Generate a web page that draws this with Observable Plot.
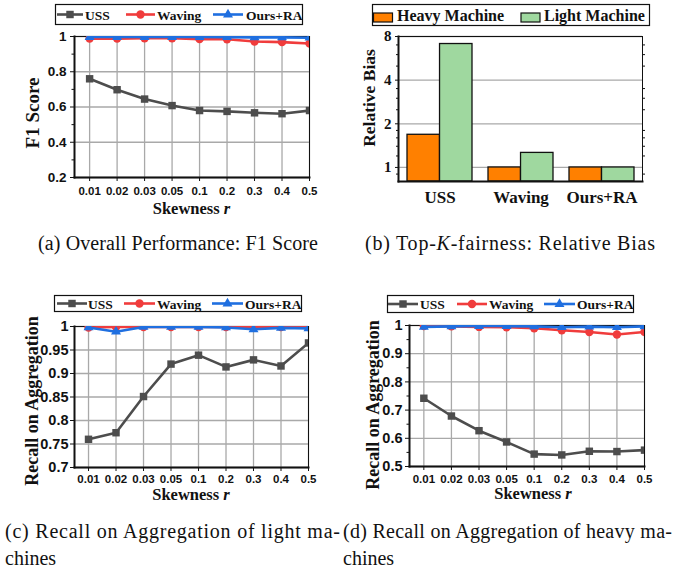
<!DOCTYPE html>
<html><head><meta charset="utf-8">
<script src="https://cdn.jsdelivr.net/npm/d3@7"></script>
<script src="https://cdn.jsdelivr.net/npm/@observablehq/plot@0.6"></script>
<style>
body{margin:0;background:#fff}
#root{position:relative;width:676px;height:572px;overflow:hidden;background:#fff}
#root > svg{position:absolute}
</style></head><body><div id="root"></div>
<script>
// ---------- data ----------
const skewLabels = ["0.01","0.02","0.03","0.05","0.1","0.2","0.3","0.4","0.5"];
const seriesNames = ["USS","Waving","Ours+RA"];

const f1USS    = [0.760, 0.698, 0.645, 0.608, 0.580, 0.575, 0.567, 0.562, 0.580];
const f1Waving = [0.988, 0.988, 0.990, 0.990, 0.985, 0.984, 0.972, 0.968, 0.960];
const f1Ours   = [0.997, 0.997, 0.997, 0.997, 0.997, 0.996, 0.995, 0.995, 0.993];

const lightUSS    = [0.760, 0.774, 0.851, 0.920, 0.939, 0.914, 0.929, 0.916, 0.965];
const lightWaving = [0.998, 0.999, 0.999, 0.999, 0.999, 0.999, 0.999, 0.999, 0.999];
const lightOurs   = [0.998, 0.989, 0.999, 0.999, 0.999, 0.998, 0.994, 0.997, 0.996];

const heavyUSS    = [0.742, 0.679, 0.627, 0.587, 0.544, 0.541, 0.554, 0.553, 0.558];
const heavyWaving = [0.998, 0.997, 0.995, 0.994, 0.990, 0.983, 0.977, 0.968, 0.977];
const heavyOurs   = [0.995, 0.997, 0.998, 0.998, 0.997, 0.994, 0.996, 0.994, 0.997];

const methods     = ["USS","Waving","Ours+RA"];
const machineKeys = ["Heavy Machine","Light Machine"];
const heavyBias   = [1.68, 1.00, 1.00];
const lightBias   = [7.10, 1.26, 1.00];

const f1Ticks    = [0.2, 0.4, 0.6, 0.8, 1];
const f1Minor    = [0.3, 0.5, 0.7, 0.9];
const lightTicks = [0.7, 0.75, 0.8, 0.85, 0.9, 0.95, 1];
const heavyTicks = [0.5, 0.6, 0.7, 0.8, 0.9, 1];
const heavyMinor = [0.55, 0.65, 0.75, 0.85, 0.95];
const biasTicks  = [1, 2, 4, 8];
const biasMinor  = [0.9, 1.2, 1.4, 1.6, 1.8, 2.5, 3, 3.5, 5, 6, 7];

// ---------- style ----------
const SANS = "'Liberation Sans', Arial, sans-serif";
const SERIF = "'Liberation Serif', 'Times New Roman', serif";
const COLORS = {"USS":"#4d4d4d","Waving":"#f03c3c","Ours+RA":"#1f6fe0"};
const SYMBOLS = {"USS":"square","Waving":"circle","Ours+RA":"triangle"};
const RADII = {"USS":4.2,"Waving":4.2,"Ours+RA":3.7};
const BARCOL = {"Heavy Machine":"#ff8000","Light Machine":"#9fd89f"};
const GRID = "#a9a9a9";

const root = document.getElementById("root");

function lineChart(cfg) {
  const idx = skewLabels.map((_, i) => i);
  const vals = [cfg.uss, cfg.waving, cfg.ours];
  const rows = seriesNames.flatMap((k, s) => vals[s].map((v, i) => ({i, v, k})));
  const marks = [
    Plot.gridX(idx, {stroke: GRID, strokeOpacity: 1, strokeWidth: 1.3}),
    Plot.gridY(cfg.yTicks, {stroke: GRID, strokeOpacity: 1, strokeWidth: 1.3}),
    Plot.frame({stroke: "#111", strokeWidth: 1}),
    Plot.frame({anchor: "left", stroke: "#111", strokeWidth: 2}),
    Plot.frame({anchor: "bottom", stroke: "#111", strokeWidth: 2}),
    Plot.axisX(idx, {tickFormat: i => skewLabels[i], tickSize: 4, tickPadding: cfg.xPad, label: null,
      fontSize: 11.5, fontWeight: "bold", fontFamily: SANS}),
    Plot.axisY(cfg.yTicks, {tickFormat: d => String(d), tickSize: 4, tickPadding: cfg.yPad, label: null,
      fontSize: cfg.yFont, fontWeight: "bold", fontFamily: SANS}),
  ];
  if (cfg.yMinor) marks.push(Plot.axisY(cfg.yMinor, {tickSize: 2.5, tickFormat: () => "", label: null}));
  for (const k of seriesNames) {
    marks.push(Plot.line(rows, {filter: d => d.k === k, x: "i", y: "v", stroke: COLORS[k], strokeWidth: 2.6, clip: true}));
    marks.push(Plot.dot(rows, {filter: d => d.k === k, x: "i", y: "v", symbol: SYMBOLS[k], r: RADII[k], fill: COLORS[k], stroke: "none", clip: true}));
  }
  const svg = Plot.plot({
    width: cfg.w, height: cfg.h,
    marginLeft: cfg.mL, marginRight: cfg.mR, marginTop: cfg.mT, marginBottom: cfg.mB,
    style: {background: "transparent", color: "#111", overflow: "visible"},
    x: {type: "linear", domain: [-cfg.pad, skewLabels.length - 1], axis: null, label: null},
    y: {type: "linear", domain: cfg.yDom, axis: null, label: null},
    symbol: {type: "identity"},
    marks
  });
  svg.style.left = cfg.left + "px";
  svg.style.top = cfg.top + "px";
  root.appendChild(svg);
}

lineChart({left: 0, top: 0, w: 338, h: 225, mL: 74, mR: 29, mT: 36, mB: 48, pad: 0.55,
  yDom: [0.2, 1], yTicks: f1Ticks, yMinor: f1Minor, xPad: 5, yPad: 4, yFont: 13.5,
  uss: f1USS, waving: f1Waving, ours: f1Ours});
lineChart({left: 0, top: 285, w: 338, h: 220, mL: 74, mR: 30, mT: 41, mB: 38, pad: 0.51,
  yDom: [0.7, 1], yTicks: lightTicks, yMinor: null, xPad: 3, yPad: 2, yFont: 14.5,
  uss: lightUSS, waving: lightWaving, ours: lightOurs});
lineChart({left: 340, top: 285, w: 336, h: 220, mL: 69, mR: 32, mT: 40, mB: 39, pad: 0.52,
  yDom: [0.5, 1], yTicks: heavyTicks, yMinor: heavyMinor, xPad: 4, yPad: 3, yFont: 14.5,
  uss: heavyUSS, waving: heavyWaving, ours: heavyOurs});

// ---------- bar chart (b) ----------
(function () {
  const w = 336, h = 225, mL = 58, mR = 34, mT = 36, mB = 44;
  const pIn = 0.2, pOut = 0.1;
  const step = (w - mL - mR) / (methods.length - pIn + 2 * pOut);
  const half = step * (1 - pIn) / 2;
  const yMin = 0.8;
  const svg = Plot.plot({
    width: w, height: h, marginLeft: mL, marginRight: mR, marginTop: mT, marginBottom: mB,
    style: {background: "transparent", color: "#111", overflow: "visible"},
    x: {type: "band", domain: methods, paddingInner: pIn, paddingOuter: pOut, axis: null, label: null},
    y: {type: "log", base: 2, domain: [yMin, 8], axis: null, label: null},
    marks: [
      Plot.gridY(biasTicks, {stroke: GRID, strokeOpacity: 1, strokeWidth: 1.3}),
      Plot.barY(methods, {x: d => d, y1: () => yMin, y2: (d, i) => heavyBias[i],
        fill: BARCOL["Heavy Machine"], stroke: "#111", strokeWidth: 1.3, insetRight: half}),
      Plot.barY(methods, {x: d => d, y1: () => yMin, y2: (d, i) => lightBias[i],
        fill: BARCOL["Light Machine"], stroke: "#111", strokeWidth: 1.3, insetLeft: half}),
      Plot.frame({stroke: "#111", strokeWidth: 1}),
      Plot.frame({anchor: "left", stroke: "#111", strokeWidth: 2}),
      Plot.frame({anchor: "bottom", stroke: "#111", strokeWidth: 2}),
      Plot.axisY(biasTicks, {tickFormat: d => String(d), tickSize: 3, tickPadding: 4, label: null,
        fontSize: 15, fontWeight: "bold", fontFamily: SERIF}),
      Plot.axisY(biasMinor, {tickSize: 2, tickFormat: () => "", label: null}),
      Plot.axisY(biasMinor, {anchor: "right", tickSize: 2, tickFormat: () => "", label: null}),
      Plot.axisX(methods, {tickSize: 0, tickPadding: 9, fontSize: 17, fontWeight: "bold", fontFamily: SERIF, label: null})
    ]
  });
  svg.style.left = "340px";
  svg.style.top = "0px";
  root.appendChild(svg);
})();

// ---------- overlay: titles, legends, captions ----------
const ov = d3.select(root).append("svg")
  .attr("width", 676).attr("height", 572)
  .style("left", "0px").style("top", "0px").style("pointer-events", "none");

function yTitle(text, x, y, size) {
  ov.append("text").attr("transform", `translate(${x},${y}) rotate(-90)`)
    .attr("text-anchor", "middle").attr("font-family", SERIF).attr("font-weight", "bold")
    .attr("font-size", size).attr("fill", "#111").text(text);
}
function xTitle(x, y) {
  const t = ov.append("text").attr("x", x).attr("y", y).attr("text-anchor", "middle")
    .attr("font-family", SERIF).attr("font-weight", "bold").attr("font-size", 16.5).attr("fill", "#111");
  t.append("tspan").text("Skewness ");
  t.append("tspan").attr("font-style", "italic").text("r");
}
yTitle("F1 Score", 39, 113, 19);
yTitle("Relative Bias", 375, 98, 17.5);
yTitle("Recall on Aggregation", 38, 401, 18);
yTitle("Recall on Aggregation", 379, 405, 18);
xTitle(191.5, 214);
xTitle(191, 500);
xTitle(533, 499);

function lineLegend(box, items) {
  ov.append("rect").attr("x", box.x + 0.5).attr("y", box.y + 0.5).attr("width", box.w).attr("height", box.h)
    .attr("fill", "#fff").attr("stroke", "#111").attr("stroke-width", 1.2);
  const cy = box.y + box.h / 2 + 0.5;
  items.forEach((it, j) => {
    const k = seriesNames[j];
    ov.append("line").attr("x1", it[0]).attr("x2", it[1]).attr("y1", cy).attr("y2", cy)
      .attr("stroke", COLORS[k]).attr("stroke-width", 2.6);
    const sym = {square: d3.symbolSquare, circle: d3.symbolCircle, triangle: d3.symbolTriangle}[SYMBOLS[k]];
    const r = RADII[k];
    ov.append("path").attr("d", d3.symbol(sym, Math.PI * r * r)())
      .attr("transform", `translate(${(it[0] + it[1]) / 2},${cy})`).attr("fill", COLORS[k]);
    ov.append("text").attr("x", it[2]).attr("y", cy + 5).attr("font-family", SERIF)
      .attr("font-weight", "bold").attr("font-size", 13.5).attr("fill", "#111").text(k);
  });
}
lineLegend({x: 55, y: 4, w: 247, h: 20}, [[57, 83, 85], [126, 155, 157], [213, 243, 246]]);
lineLegend({x: 54, y: 295, w: 247, h: 16}, [[57, 87, 88], [124, 155, 157], [212, 243, 245]]);
lineLegend({x: 387, y: 295, w: 246, h: 17}, [[388, 418, 420], [457, 487, 489], [544, 575, 577]]);

// bar legend
(function () {
  ov.append("rect").attr("x", 372.5).attr("y", 4.5).attr("width", 277).attr("height", 21)
    .attr("fill", "#fff").attr("stroke", "#111").attr("stroke-width", 1.2);
  const pos = [[373.5, 397], [521, 544]];
  machineKeys.forEach((k, j) => {
    ov.append("rect").attr("x", pos[j][0]).attr("y", 13).attr("width", 19).attr("height", 9)
      .attr("fill", BARCOL[k]).attr("stroke", "#111").attr("stroke-width", 1.2);
    ov.append("text").attr("x", pos[j][1]).attr("y", 21).attr("font-family", SERIF)
      .attr("font-weight", "bold").attr("font-size", 16).attr("fill", "#111").text(k);
  });
})();

// captions
function caption(x, y, parts, len) {
  const t = ov.append("text").attr("x", x).attr("y", y).attr("font-family", SERIF)
    .attr("font-size", 20).attr("fill", "#111");
  if (len) t.attr("textLength", len).attr("lengthAdjust", "spacing");
  parts.forEach(p => {
    const s = t.append("tspan").text(p.t);
    if (p.i) s.attr("font-style", "italic");
  });
}
caption(38, 250, [{t: "(a)  Overall Performance: F1 Score"}], 280);
caption(365, 250, [{t: "(b)  Top-"}, {t: "K", i: true}, {t: "-fairness: Relative Bias"}], 290);
caption(5, 538, [{t: "(c)  Recall on Aggregation of light ma-"}], 335);
caption(5, 565, [{t: "chines"}]);
caption(343, 538, [{t: "(d)  Recall on Aggregation of heavy ma-"}], 329);
caption(343, 565, [{t: "chines"}]);
</script></body></html>
